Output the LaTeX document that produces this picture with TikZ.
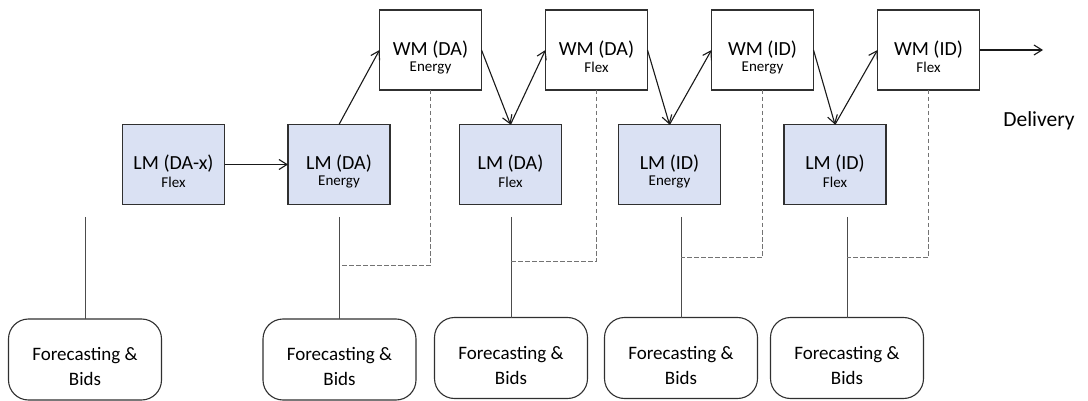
\documentclass[tikz,border=0pt]{standalone}
\usepackage{fontspec}
\setmainfont{Carlito}
\usetikzlibrary{arrows.meta}
\definecolor{lmfill}{HTML}{DAE1F3}
\definecolor{edgec}{HTML}{303030}
\begin{document}
\begin{tikzpicture}[x=1pt,y=-1pt,
  box/.style={draw=edgec, line width=1.2pt, minimum width=102pt, minimum height=80pt, inner sep=0pt, outer sep=0pt},
  lmbox/.style={box, fill=lmfill},
  wmbox/.style={box, fill=white},
  fbbox/.style={draw=edgec, line width=1.1pt, rounded corners=20pt, minimum width=153pt, minimum height=81pt, inner sep=0pt, outer sep=0pt, fill=white},
  tmain/.style={anchor=base, yshift=0.5pt, font=\fontsize{20}{20}\selectfont, inner sep=0pt},
  tsub/.style={anchor=base, yshift=-17.5pt, font=\fontsize{15}{15}\selectfont, inner sep=0pt},
  fone/.style={anchor=base, yshift=3.5pt, font=\fontsize{19}{19}\selectfont, inner sep=0pt},
  ftwo/.style={anchor=base, yshift=-19.5pt, font=\fontsize{19}{19}\selectfont, inner sep=0pt},
  flow/.style={draw=black!90, line width=1.1pt, -{Straight Barb[length=8pt,width=10pt]}},
  feed/.style={draw=black!70, line width=0.9pt},
  ctrl/.style={draw=black!55, line width=0.9pt, dash pattern=on 4.5pt off 2.5pt},
]
\useasboundingbox[fill=white] (0,0) rectangle (1088,401);

% LM boxes
\node[lmbox, label={[tmain]center:LM (DA-x)}, label={[tsub]center:Flex}] (lm1) at (173.5,164.5) {};
\node[lmbox, label={[tmain]center:LM (DA)}, label={[tsub]center:Energy}] (lm2) at (339,164.5) {};
\node[lmbox, label={[tmain]center:LM (DA)}, label={[tsub]center:Flex}] (lm3) at (510.5,164.5) {};
\node[lmbox, label={[tmain]center:LM (ID)}, label={[tsub]center:Energy}] (lm4) at (669.5,164.5) {};
\node[lmbox, label={[tmain]center:LM (ID)}, label={[tsub]center:Flex}] (lm5) at (835,164.5) {};

% WM boxes
\node[wmbox, label={[tmain]center:WM (DA)}, label={[tsub]center:Energy}] (wm1) at (430.5,50) {};
\node[wmbox, label={[tmain]center:WM (DA)}, label={[tsub]center:Flex}] (wm2) at (596.5,50) {};
\node[wmbox, label={[tmain]center:WM (ID)}, label={[tsub]center:Energy}] (wm3) at (762.5,50) {};
\node[wmbox, label={[tmain]center:WM (ID)}, label={[tsub]center:Flex}] (wm4) at (928.5,50) {};

% Forecasting & Bids boxes
\node[fbbox, label={[fone]center:Forecasting \&}, label={[ftwo]center:Bids}] (fb1) at (85,359.5) {};
\node[fbbox, label={[fone]center:Forecasting \&}, label={[ftwo]center:Bids}] (fb2) at (339.5,359.5) {};
\node[fbbox, label={[fone]center:Forecasting \&}, label={[ftwo]center:Bids}] (fb3) at (511,358) {};
\node[fbbox, label={[fone]center:Forecasting \&}, label={[ftwo]center:Bids}] (fb4) at (681,358) {};
\node[fbbox, label={[fone]center:Forecasting \&}, label={[ftwo]center:Bids}] (fb5) at (847,358) {};

% Delivery
\node[font=\fontsize{21.5}{21.5}\selectfont, anchor=base, inner sep=0pt] (delivery) at (1039,127) {Delivery};

% free ends
\coordinate (s1) at (85,217);
\coordinate (s2) at (339.5,217);
\coordinate (s3) at (511,217);
\coordinate (s4) at (681,217);
\coordinate (s5) at (847,217);
\coordinate (j2) at (339.5,265);
\coordinate (j3) at (511,261);
\coordinate (j4) at (681,257);
\coordinate (j5) at (847,257);
\coordinate (dl) at (1043,50);

% vertical feed lines
\draw[feed] (s1) -- (fb1.north);
\draw[feed] (s2) -- (fb2.north);
\draw[feed] (s3) -- (fb3.north);
\draw[feed] (s4) -- (fb4.north);
\draw[feed] (s5) -- (fb5.north);

% dashed links
\draw[ctrl] (wm1.south) |- (j2);
\draw[ctrl] (wm2.south) |- (j3);
\draw[ctrl] (wm3.south) |- (j4);
\draw[ctrl] (wm4.south) |- (j5);

% flow arrows
\draw[flow] (lm1) -- (lm2);
\draw[flow] (lm2.north) -- (wm1.west);
\draw[flow] (wm1.east) -- (lm3.north);
\draw[flow] (lm3.north) -- (wm2.west);
\draw[flow] (wm2.east) -- (lm4.north);
\draw[flow] (lm4.north) -- (wm3.west);
\draw[flow] (wm3.east) -- (lm5.north);
\draw[flow] (lm5.north) -- (wm4.west);
\draw[flow] (wm4.east) -- (dl);
\end{tikzpicture}
\end{document}
